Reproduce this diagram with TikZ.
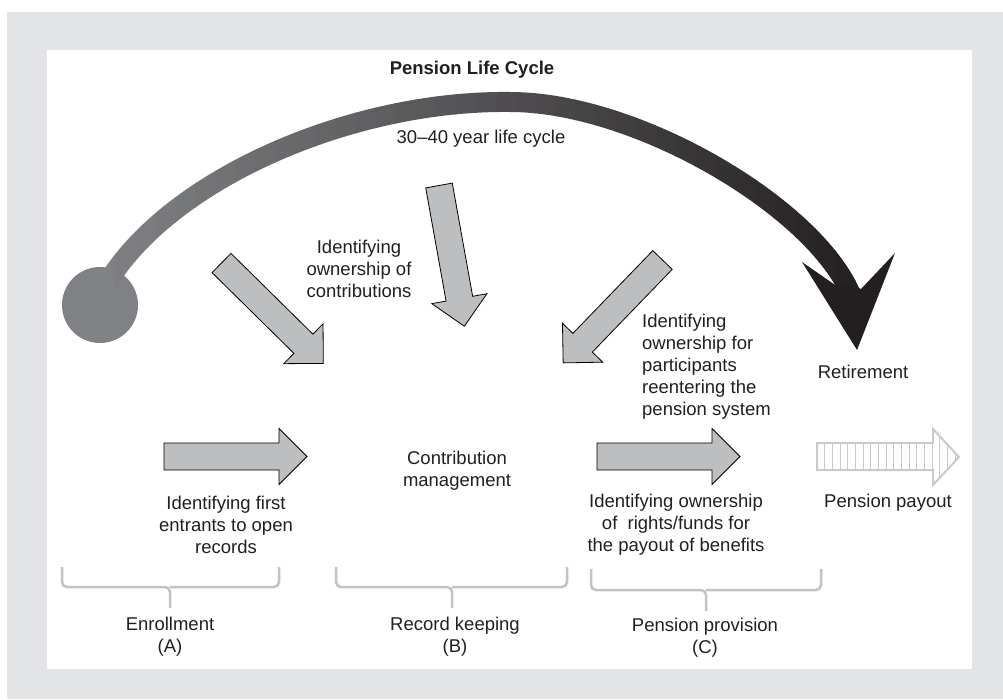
\documentclass[tikz,border=0pt]{standalone}
\usepackage{fontspec}
\setmainfont{Liberation Sans}
\definecolor{panelgrey}{HTML}{E3E4E6}
\definecolor{arrowgrey}{HTML}{BCBEC0}
\definecolor{bracegrey}{HTML}{C2C3C5}
\definecolor{hatchgrey}{HTML}{C9CACC}
\definecolor{cyclelight}{HTML}{808184}
\definecolor{cycledark}{HTML}{231F20}
\definecolor{inkcol}{HTML}{231F20}
\tikzset{
  txt/.style={font=\fontsize{18.5}{22}\selectfont, text=inkcol, align=center, inner sep=0pt},
  arrowline/.style={draw=black, fill=arrowgrey, line width=0.8pt, line join=miter},
  braceline/.style={draw=bracegrey, line width=2.5pt, rounded corners=5pt},
  hatchline/.style={draw=hatchgrey, line width=1pt},
  blockarrow/.pic={
    \path[arrowline] (0,-13.5) -- (115,-13.5) -- (115,-28) -- (143,0)
      -- (115,28) -- (115,13.5) -- (0,13.5) -- cycle;
  }
}

\begin{document}
\begin{tikzpicture}[x=1pt, y=-1pt]
    \useasboundingbox (0,0) rectangle (1003,699);
    % Frame
    \fill[panelgrey] (7,12) rectangle (1003,699);
    \fill[white] (47,50) rectangle (972,669);

    % Life cycle curve
    \coordinate (S) at (106,285);
    \coordinate (M) at (510,102);
    \coordinate (E) at (853,300);
    \fill[cyclelight] (100,305) circle (38pt);
    \foreach \i in {0,...,38} {
        \pgfmathsetmacro{\shadepct}{100*\i/38}
        \begin{scope}
            \clip (95+\i*20,40) rectangle (115.6+\i*20,400);
            \draw[line width=20pt, draw=cycledark!\shadepct!cyclelight]
                (S) .. controls (168,180) and (350,100) .. (M)
                    .. controls (640,102) and (822,212) .. (E);
        \end{scope}
    }
    \fill[cycledark] (802,262) -- (838,287) -- (850,284) -- (861,289)
        -- (895,253) -- (857,350) -- cycle;

    \node[txt, font=\fontsize{18.5}{22}\selectfont\bfseries] (title) at (472,70) {Pension Life Cycle};
    \node[txt] (span) at (481,139) {30--40 year life cycle};

    % Block arrows
    \pic[rotate=-44.6] at (221.5,263) {blockarrow};
    \pic[rotate=-79.8] at (439,185.5) {blockarrow};
    \pic[rotate=-134] at (662.5,260) {blockarrow};
    \pic at (164,456.5) {blockarrow};
    \pic at (597,456.5) {blockarrow};

    % Pension payout arrow (hatched)
    \begin{scope}
        \clip (817,443) -- (933,443) -- (933,429) -- (959,457) -- (933,485)
            -- (933,470) -- (817,470) -- cycle;
        \foreach \k in {1,...,18}
            \draw[hatchline] (817+7.67*\k,420) -- (817+7.67*\k,490);
    \end{scope}
    \draw[hatchline, line width=2pt] (817,443) -- (933,443) -- (933,429) -- (959,457)
        -- (933,485) -- (933,470) -- (817,470) -- cycle;

    % Texts
    \node[txt] (contrib) at (359,269) {Identifying\\ownership of\\contributions};
    \node[txt, align=left, anchor=west] (reenter) at (642,367)
        {Identifying\\ownership for\\participants\\reentering the\\pension system};
    \node[txt] (retire) at (863,372) {Retirement};
    \node[txt] (first) at (226,525) {Identifying first\\entrants to open\\records};
    \node[txt] (contmgmt) at (457,471) {Contribution\\management};
    \node[txt] (rights) at (676,525) {Identifying ownership\\of~ rights/funds for\\the payout of benefits};
    \node[txt] (payout) at (888,503) {Pension payout};

    % Brackets
    \coordinate (bA) at (170,587);
    \coordinate (bB) at (452,587);
    \coordinate (bC) at (706,590);
    \draw[braceline] (62,567) |- (bA) -- ++(0,21);
    \draw[braceline] (279,567) |- (bA);
    \draw[braceline] (336,567) |- (bB) -- ++(0,21);
    \draw[braceline] (567,567) |- (bB);
    \draw[braceline] (591,569) |- (bC) -- ++(0,21);
    \draw[braceline] (821,569) |- (bC);

    \node[txt] (enroll) at (170,637) {Enrollment\\(A)};
    \node[txt] (keeping) at (455,637) {Record keeping\\(B)};
    \node[txt] (provision) at (705,638) {Pension provision\\(C)};
\end{tikzpicture}
\end{document}
